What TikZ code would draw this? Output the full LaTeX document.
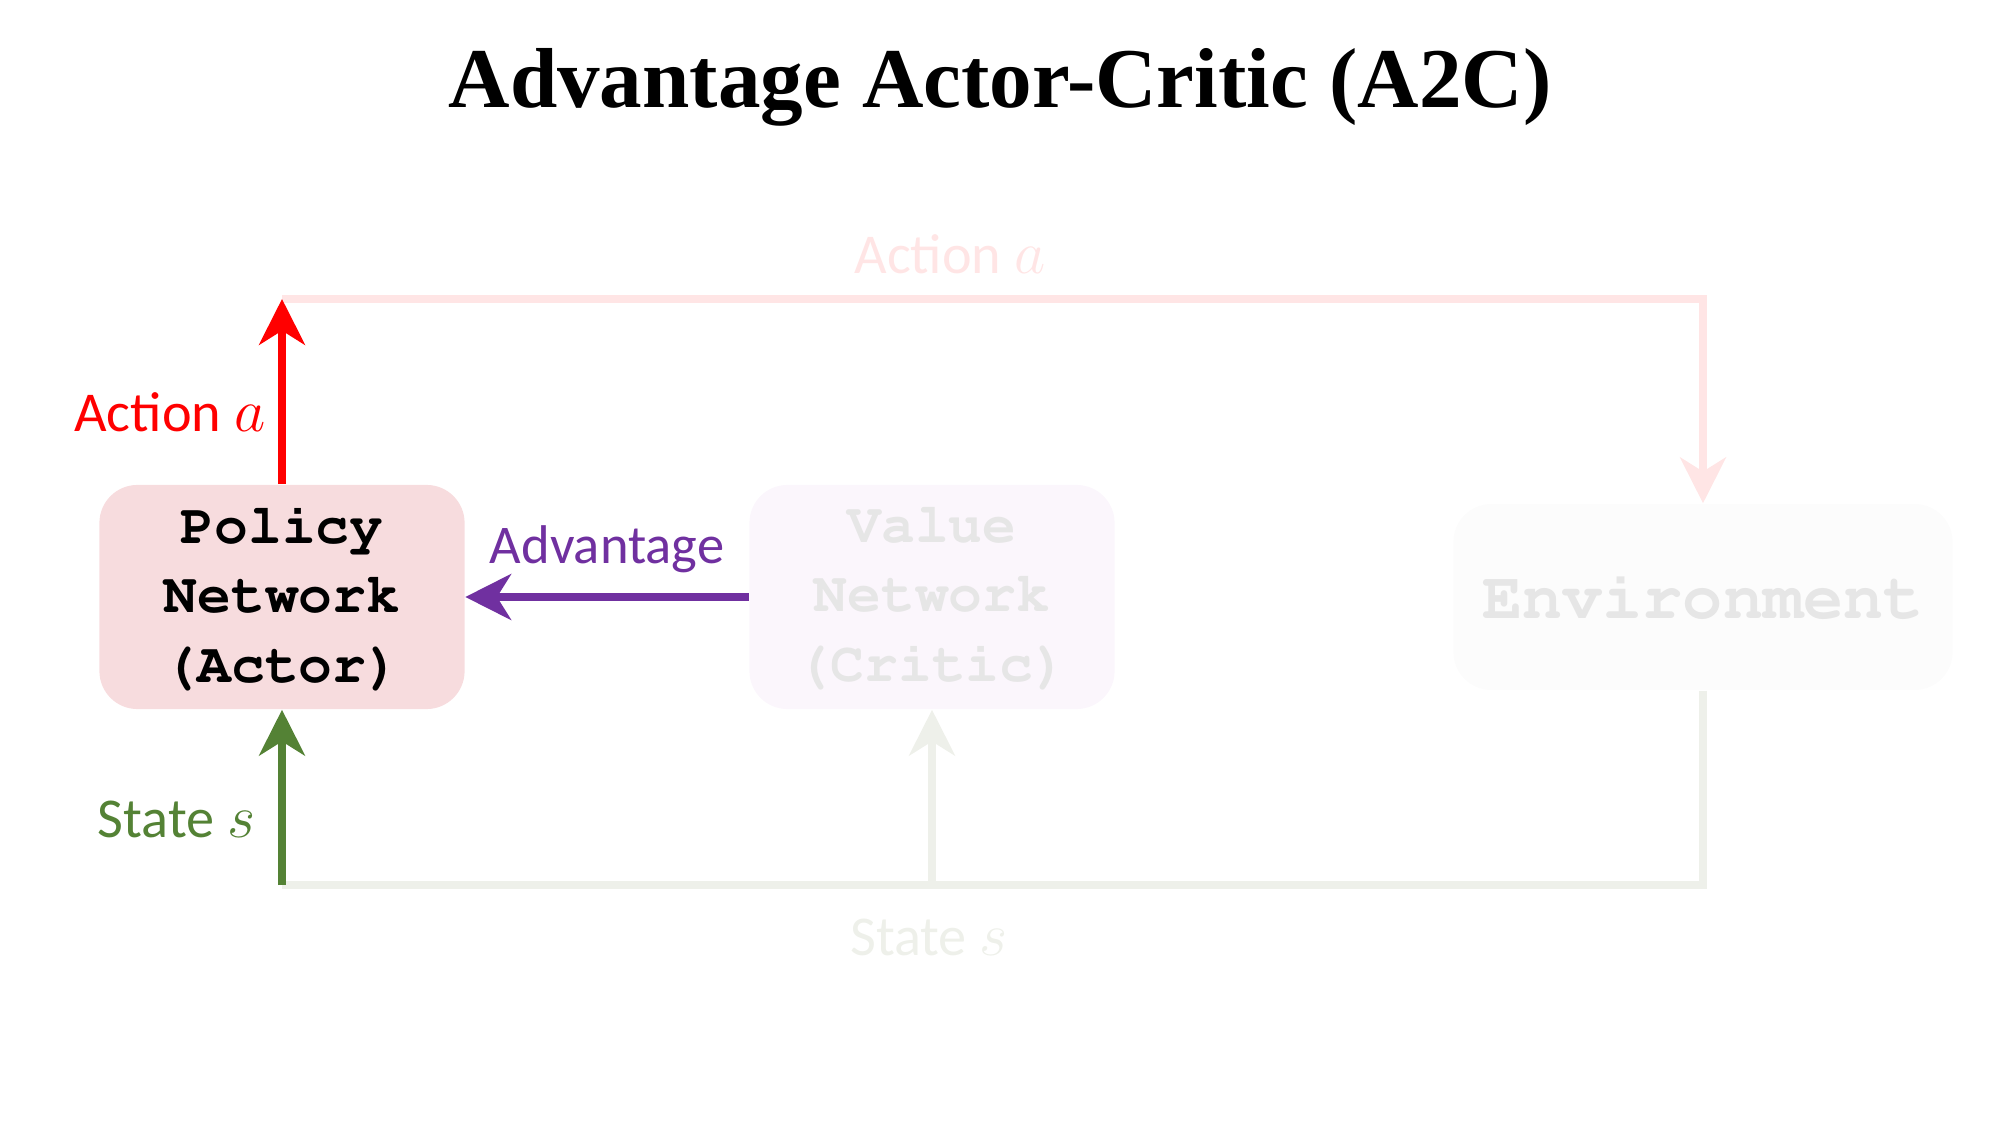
\documentclass[tikz,border=0pt]{standalone}
\usepackage{fontspec}
\setmainfont{Carlito}
\newfontfamily\titlefont{Liberation Serif}
\newcommand{\courb}{\fontencoding{T1}\fontfamily{pcr}\fontseries{b}\selectfont}
\usetikzlibrary{arrows.meta}
\definecolor{pinkfill}{RGB}{247,220,222}
\definecolor{valfill}{RGB}{251,246,252}
\definecolor{envfill}{RGB}{252,252,252}
\definecolor{ghosttext}{RGB}{230,230,230}
\definecolor{palepink}{RGB}{255,229,229}
\definecolor{palegreen}{RGB}{238,240,234}
\definecolor{sgreen}{RGB}{84,130,53}
\definecolor{apurple}{RGB}{112,48,160}
\begin{document}
\begin{tikzpicture}[x=0.01cm,y=-0.01cm,
  box/.style={rounded corners=0.38cm, align=center, inner sep=0pt,
    font=\courb\fontsize{16}{19.7}\selectfont},
  conn/.style={line width=2.2pt, -{Stealth[length=13pt,width=13pt,inset=4pt]}},
  plain/.style={line width=2.2pt},
  lab/.style={font=\fontsize{16}{19}\selectfont, inner sep=0pt}]
\useasboundingbox (0,0) rectangle (2000,1125);
\node[font=\titlefont\bfseries\fontsize{24.2}{29}\selectfont] (title) at (1000,87) {Advantage Actor-Critic (A2C)};
\node[box, fill=pinkfill, minimum width=3.65cm, minimum height=2.24cm] (policy) at (282,597) {Policy\\Network\\(Actor)};
\node[box, fill=valfill, text=ghosttext, minimum width=3.65cm, minimum height=2.24cm] (value) at (932,597) {Value\\Network\\(Critic)};
\node[box, fill=envfill, text=ghosttext, minimum width=4.99cm, minimum height=1.86cm, font=\courb\fontsize{19}{22}\selectfont] (env) at (1703,597) {Environment};
\coordinate (atop) at (282,299);
\coordinate (abot) at (282,885);
% pale loop
\draw[conn, palepink] (atop) -| (env.north);
\draw[plain, palegreen] (env.south) |- (abot);
\draw[conn, palegreen] (value.south |- abot) -- (value.south);
% active arrows
\draw[conn, red] (policy.north) -- (atop);
\draw[conn, sgreen] (abot) -- (policy.south);
\draw[conn, apurple] (value.west) -- (policy.east);
% labels
\node[lab, text=palepink] (la1) at (950,254) {Action $a$};
\node[lab, text=red, anchor=east] (la2) at (266,412) {Action $a$};
\node[lab, text=apurple, font=\fontsize{15.5}{19}\selectfont] (ladv) at (607,549) {Advantage};
\node[lab, text=sgreen, anchor=east] (ls1) at (256,819) {State $s$};
\node[lab, text=palegreen] (ls2) at (929,937) {State $s$};
\end{tikzpicture}
\end{document}
